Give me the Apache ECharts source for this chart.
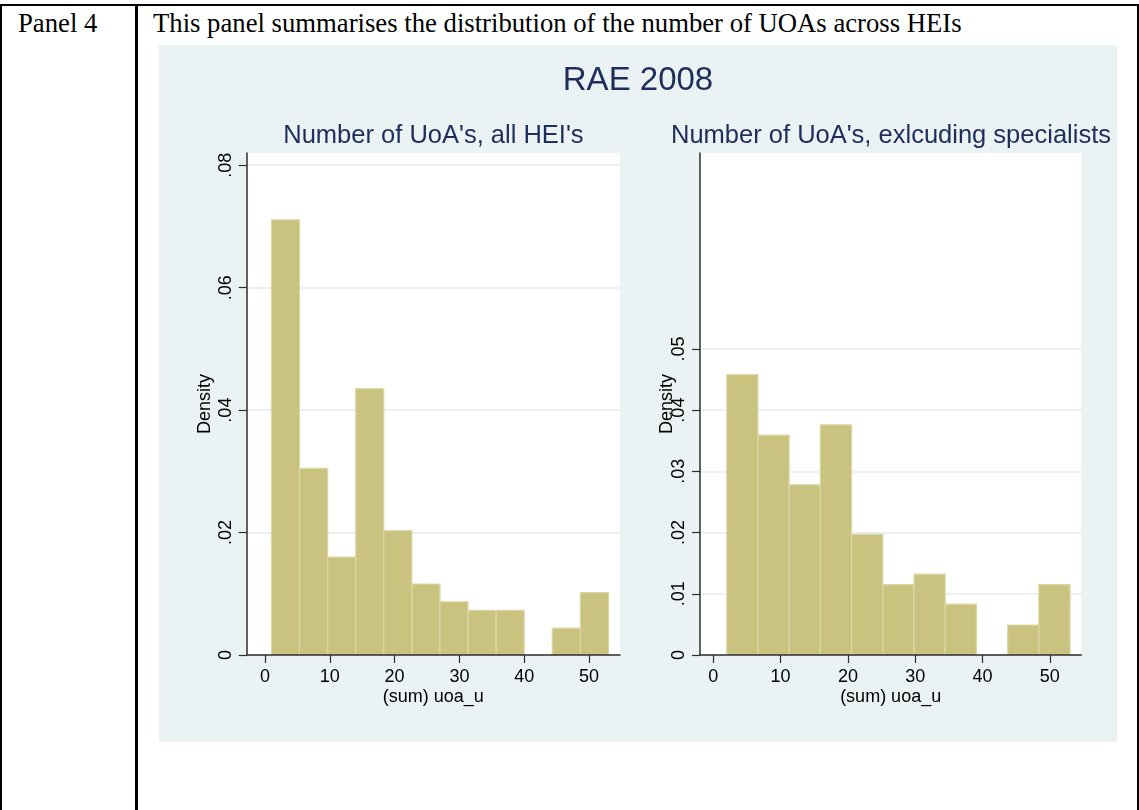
<!DOCTYPE html>
<html>
<head>
<meta charset="utf-8">
<script src="https://cdn.jsdelivr.net/npm/echarts@6/dist/echarts.min.js"></script>
<style>
  html, body { margin: 0; padding: 0; background: #fff; width: 1139px; height: 810px; overflow: hidden; }
  body { position: relative; }
  .rule { position: absolute; background: #000; }
  .cell { position: absolute; font-family: "Liberation Serif", "Times New Roman", serif; font-size: 26.7px; line-height: 27px; color: #000; white-space: nowrap; }
  #chart { position: absolute; left: 159px; top: 45px; width: 958px; height: 697px; }
</style>
</head>
<body>
<div class="rule" style="left:0;top:4px;width:1139px;height:2px"></div>
<div class="rule" style="left:0;top:4px;width:2px;height:806px"></div>
<div class="rule" style="left:135px;top:4px;width:3px;height:806px"></div>
<div class="rule" style="left:1137px;top:4px;width:2px;height:806px"></div>
<div class="cell" style="left:18px;top:10px">Panel 4</div>
<div class="cell" style="left:153px;top:10px">This panel summarises the distribution of the number of UOAs across HEIs</div>
<div id="chart"></div>
<script>
// Histogram bins: edges along (sum) uoa_u and the density of each bin
const leftBinEdges = [1, 5.33, 9.67, 14, 18.33, 22.67, 27, 31.33, 35.67, 40, 44.33, 48.67, 53];
const leftDensity = [0.0711, 0.0305, 0.0160, 0.0435, 0.0203, 0.0116, 0.0087, 0.0073, 0.0073, 0, 0.0044, 0.0102];
const rightBinEdges = [2, 6.64, 11.27, 15.91, 20.55, 25.18, 29.82, 34.45, 39.09, 43.73, 48.36, 53];
const rightDensity = [0.0458, 0.0359, 0.0278, 0.0376, 0.0197, 0.0115, 0.0132, 0.0083, 0, 0.0049, 0.0115];

// Tick labels
const xTicks = [0, 10, 20, 30, 40, 50];
const leftYTicks = [0, 0.02, 0.04, 0.06, 0.08];
const rightYTicks = [0, 0.01, 0.02, 0.03, 0.04, 0.05];

// Titles
const mainTitle = 'RAE 2008';
const leftTitle = "Number of UoA's, all HEI's";
const rightTitle = "Number of UoA's, exlcuding specialists";
const xName = '(sum) uoa_u';
const yName = 'Density';

const SANS = '"Liberation Sans", Arial, sans-serif';
const TITLE_COLOR = '#1E2D5A';
const BAR_FILL = '#CAC37F';
const BAR_EDGE = '#DCD7A8';
const AXIS_COLOR = '#2E2E2E';
const GRID_COLOR = '#E4ECEF';

function binRows(edges, dens) {
  return dens.map((d, i) => [edges[i], edges[i + 1], d]);
}

function renderBin(params, api) {
  const d = api.value(2);
  if (!(d > 0)) return null;
  const top = api.coord([api.value(0), d]);
  const bot = api.coord([api.value(1), 0]);
  return {
    type: 'group',
    children: [
      { type: 'rect', shape: { x: top[0], y: top[1], width: bot[0] - top[0], height: bot[1] - top[1] },
        style: { fill: BAR_FILL } },
      { type: 'polyline', shape: { points: [[top[0], bot[1]], [top[0], top[1]], [bot[0], top[1]], [bot[0], bot[1]]] },
        style: { fill: null, stroke: BAR_EDGE, lineWidth: 1.2 } }
    ]
  };
}

function yFmt(v) {
  if (Math.abs(v) < 1e-9) return '0';
  return String(+v.toFixed(3)).replace(/^0/, '');
}

function xAxisFor(gridIndex, min, max) {
  return {
    type: 'value', gridIndex, min, max, z: 3,
    name: xName, nameLocation: 'middle', nameGap: 33, nameMoveOverlap: false,
    nameTextStyle: { fontFamily: SANS, fontSize: 18, color: '#000' },
    axisLine: { show: true, onZero: false, lineStyle: { color: AXIS_COLOR, width: 1.5 } },
    axisTick: { show: true, length: 8, customValues: xTicks, lineStyle: { color: AXIS_COLOR, width: 1.2 } },
    axisLabel: { customValues: xTicks, margin: 13.5, fontFamily: SANS, fontSize: 18, color: '#000' },
    splitLine: { show: false }
  };
}

function yAxisFor(gridIndex, ticks, nameGap) {
  return {
    type: 'value', gridIndex, min: 0, max: 0.082,
    name: yName, nameLocation: 'middle', nameGap, nameMoveOverlap: false,
    nameTextStyle: { fontFamily: SANS, fontSize: 18, color: '#000' },
    axisLine: { show: true, onZero: false, lineStyle: { color: AXIS_COLOR, width: 1.5 } },
    axisTick: { show: true, length: 8, customValues: ticks, lineStyle: { color: AXIS_COLOR, width: 1.2 } },
    axisLabel: { customValues: ticks, rotate: 90, margin: 12, formatter: yFmt, fontFamily: SANS, fontSize: 18, color: '#000' },
    splitLine: { show: true, lineStyle: { color: GRID_COLOR, width: 1.5 } }
  };
}

const chart = echarts.init(document.getElementById('chart'), null, { renderer: 'canvas' });
chart.setOption({
  backgroundColor: '#EAF2F3',
  animation: false,
  title: [
    { text: mainTitle, left: 479, top: 19.5, textAlign: 'center', padding: 0,
      textStyle: { fontFamily: SANS, fontSize: 33, fontWeight: 'normal', color: TITLE_COLOR } },
    { text: leftTitle, left: 274.4, top: 78.4, textAlign: 'center', padding: 0,
      textStyle: { fontFamily: SANS, fontSize: 25.5, fontWeight: 'normal', color: TITLE_COLOR } },
    { text: rightTitle, left: 732, top: 78.4, textAlign: 'center', padding: 0,
      textStyle: { fontFamily: SANS, fontSize: 25.5, fontWeight: 'normal', color: TITLE_COLOR } }
  ],
  grid: [
    { left: 87.7, top: 108, width: 373.3, height: 502, show: true, backgroundColor: '#fff', borderWidth: 0 },
    { left: 541, top: 108, width: 381.3, height: 502, show: true, backgroundColor: '#fff', borderWidth: 0 }
  ],
  xAxis: [xAxisFor(0, -2.82, 54.78), xAxisFor(1, -1.97, 54.67)],
  yAxis: [yAxisFor(0, leftYTicks, 33), yAxisFor(1, rightYTicks, 23.6)],
  series: [
    { type: 'custom', xAxisIndex: 0, yAxisIndex: 0, renderItem: renderBin,
      encode: { x: [0, 1], y: 2 }, data: binRows(leftBinEdges, leftDensity), clip: false },
    { type: 'custom', xAxisIndex: 1, yAxisIndex: 1, renderItem: renderBin,
      encode: { x: [0, 1], y: 2 }, data: binRows(rightBinEdges, rightDensity), clip: false }
  ]
});
</script>
</body>
</html>
